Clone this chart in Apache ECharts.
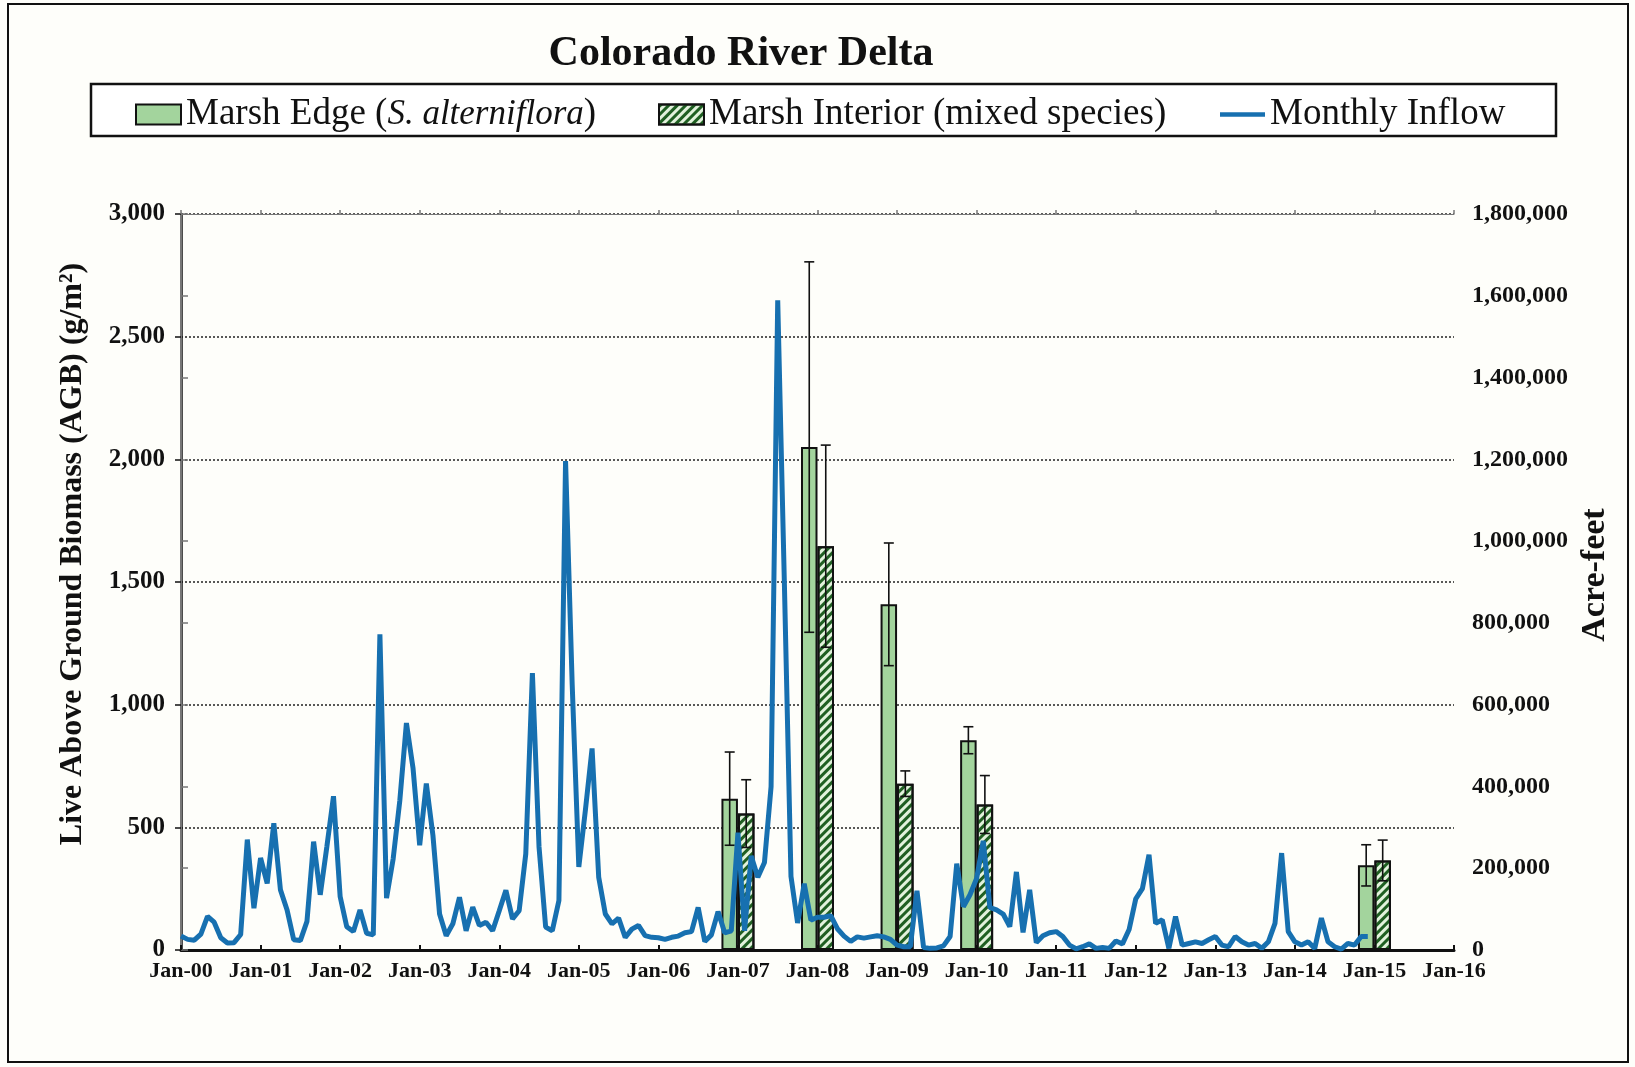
<!DOCTYPE html>
<html lang="en">
<head>
<meta charset="UTF-8">
<title>Colorado River Delta</title>
<script src="https://cdn.jsdelivr.net/npm/echarts@6/dist/echarts.min.js"></script>
<style>
  html, body { margin: 0; padding: 0; background: #fefefa; }
  #chart { width: 1635px; height: 1067px; }
</style>
</head>
<body>
<div id="chart"></div>
<script>
// monthly inflow to the delta, acre-feet, Jan..Dec of each year
const inflow2000 = [34000, 26000, 24000, 39000, 82000, 68000, 30000, 17000, 18000, 38000, 270000, 102000];
const inflow2001 = [225000, 163000, 310000, 147000, 98000, 25000, 23000, 70000, 265000, 135000, 253000, 376000];
const inflow2002 = [131000, 57000, 45000, 98000, 41000, 37000, 772000, 127000, 223000, 365000, 555000, 444000];
const inflow2003 = [256000, 407000, 280000, 88000, 35000, 64000, 129000, 47000, 105000, 60000, 68000, 47000];
const inflow2004 = [96000, 146000, 76000, 96000, 235000, 677000, 252000, 56000, 47000, 121000, 1196000, 650000];
const inflow2005 = [203000, 343000, 493000, 178000, 88000, 64000, 78000, 31000, 51000, 60000, 35000, 31000];
const inflow2006 = [30000, 26000, 31000, 34000, 42000, 45000, 104000, 21000, 37000, 94000, 42000, 47000];
const inflow2007 = [287000, 47000, 230000, 178000, 214000, 400000, 1589000, 900000, 180000, 66000, 162000, 73000];
const inflow2008 = [80000, 80000, 84000, 52000, 34000, 21000, 32000, 29000, 32000, 35000, 32000, 26000];
const inflow2009 = [12000, 8000, 8000, 145000, 6000, 4000, 5000, 10000, 33000, 211000, 106000, 135000];
const inflow2010 = [175000, 267000, 104000, 98000, 88000, 57000, 191000, 43000, 147000, 18000, 35000, 42000];
const inflow2011 = [45000, 33000, 12000, 3000, 8000, 15000, 4000, 6000, 4000, 22000, 15000, 50000];
const inflow2012 = [125000, 150000, 233000, 65000, 74000, 4000, 82000, 12000, 16000, 20000, 16000, 25000];
const inflow2013 = [33000, 12000, 8000, 33000, 20000, 12000, 16000, 4000, 20000, 65000, 237000, 45000];
const inflow2014 = [20000, 12000, 20000, 4000, 78000, 20000, 8000, 2000, 16000, 12000, 33000, 33000];

// biomass sampling dates, as months since Jan-00 (Jan-07, Jan-08, Jan-09, Jan-10, Jan-15)
const sampleMonths = [84, 96, 108, 120, 180];
const edgeMean = [617, 2050, 1409, 855, 345];
const edgeErr = [190, 755, 250, 55, 84];
const interiorMean = [556, 1646, 678, 593, 365];
const interiorErr = [138, 412, 52, 118, 83];

const yearLabels = ['Jan-00', 'Jan-01', 'Jan-02', 'Jan-03', 'Jan-04', 'Jan-05', 'Jan-06', 'Jan-07', 'Jan-08',
  'Jan-09', 'Jan-10', 'Jan-11', 'Jan-12', 'Jan-13', 'Jan-14', 'Jan-15', 'Jan-16'];

const EDGE = 'Marsh Edge (S. alterniflora)';
const INTERIOR = 'Marsh Interior (mixed species)';
const INFLOW = 'Monthly Inflow';

const SERIF = "'Liberation Serif', 'Times New Roman', serif";
const BAR_W = 16.5;
const LINE_BLUE = '#1770b0';

const monthlyInflow = [].concat(inflow2000, inflow2001, inflow2002, inflow2003, inflow2004, inflow2005,
  inflow2006, inflow2007, inflow2008, inflow2009, inflow2010, inflow2011, inflow2012, inflow2013, inflow2014);

function thousands(v) {
  return Number(v).toLocaleString('en-US');
}

function errorBars(means, errs, side) {
  return {
    type: 'custom',
    name: side < 0 ? 'edge error' : 'interior error',
    xAxisIndex: 0,
    yAxisIndex: 0,
    z: 4,
    silent: true,
    data: sampleMonths.map((m, i) => [m, means[i] - errs[i], means[i] + errs[i]]),
    renderItem: function (params, api) {
      const lo = api.coord([api.value(0), api.value(1)]);
      const hi = api.coord([api.value(0), api.value(2)]);
      const x = lo[0] + side * BAR_W / 2;
      const cap = 5;
      const st = { stroke: '#111', lineWidth: 1.6 };
      return {
        type: 'group',
        children: [
          { type: 'line', shape: { x1: x, y1: lo[1], x2: x, y2: hi[1] }, style: st },
          { type: 'line', shape: { x1: x - cap, y1: hi[1], x2: x + cap, y2: hi[1] }, style: st },
          { type: 'line', shape: { x1: x - cap, y1: lo[1], x2: x + cap, y2: lo[1] }, style: st }
        ]
      };
    }
  };
}

// one legend block per entry so each sits where it does in the figure
function legendAt(left, item) {
  return {
    left: left,
    top: 91,
    itemWidth: 45,
    itemHeight: 20,
    data: [item],
    formatter: function (name) {
      if (name === EDGE) return '{n|Marsh Edge (}{i|S. alterniflora}{n|)}';
      return '{n|' + name + '}';
    },
    textStyle: {
      color: '#111',
      fontFamily: SERIF,
      fontSize: 37,
      rich: {
        n: { fontFamily: SERIF, fontSize: 37, color: '#111' },
        i: { fontFamily: SERIF, fontSize: 35, fontStyle: 'italic', color: '#111' }
      }
    }
  };
}

const chart = echarts.init(document.getElementById('chart'));

const option = {
  backgroundColor: '#fefefa',
  animation: false,
  graphic: [
    { type: 'rect', shape: { x: 8, y: 4, width: 1620, height: 1058 }, style: { fill: 'none', stroke: '#111', lineWidth: 2 } },
    { type: 'rect', shape: { x: 91, y: 84, width: 1465, height: 52 }, style: { fill: '#ffffff', stroke: '#111', lineWidth: 2.5 }, z: -1 },
    { type: 'text', x: 741, y: 54, style: { text: 'Colorado River Delta', font: 'bold 42px ' + SERIF, fill: '#111', align: 'center', verticalAlign: 'middle' } },
    { type: 'text', x: 73, y: 554, rotation: Math.PI / 2, style: { text: 'Live Above Ground Biomass (AGB) (g/m²)', font: 'bold 32px ' + SERIF, fill: '#111', align: 'center', verticalAlign: 'middle' } },
    { type: 'text', x: 1595, y: 575, rotation: Math.PI / 2, style: { text: 'Acre-feet', font: 'bold 34px ' + SERIF, fill: '#111', align: 'center', verticalAlign: 'middle' } }
  ],
  legend: [
    legendAt(130, { name: EDGE, icon: 'rect' }),
    legendAt(653, { name: INTERIOR, icon: 'rect' }),
    legendAt(1215, { name: INFLOW, icon: 'path://M0,0 L45,0 L45,4.5 L0,4.5 Z' })
  ],
  grid: { left: 181, right: 181, top: 214, bottom: 117, containLabel: false },
  xAxis: [
    {
      type: 'value', position: 'bottom', min: 0, max: 192, interval: 12,
      axisLine: { show: true, onZero: false, lineStyle: { color: '#111', width: 3 } },
      axisTick: { show: true, inside: true, length: 5, lineStyle: { color: '#111', width: 2 } },
      axisLabel: {
        margin: 10, color: '#111', fontFamily: SERIF, fontWeight: 'bold', fontSize: 22,
        showMinLabel: true, showMaxLabel: true,
        formatter: v => yearLabels[Math.round(v / 12)]
      },
      splitLine: { show: false }
    },
    {
      type: 'value', position: 'top', min: 0, max: 192, interval: 12,
      axisLine: { show: true, onZero: false, lineStyle: { color: '#777', width: 1 } },
      axisTick: { show: true, inside: false, length: 4, lineStyle: { color: '#777', width: 1.5 } },
      axisLabel: { show: false },
      splitLine: { show: false }
    }
  ],
  yAxis: [
    {
      type: 'value', position: 'left', min: 0, max: 3000, interval: 500,
      axisLine: { show: true, lineStyle: { color: '#111', width: 2.5 } },
      axisTick: { show: true, inside: false, length: 6, lineStyle: { color: '#111', width: 1.5 } },
      axisLabel: { margin: 16, color: '#111', fontFamily: SERIF, fontWeight: 'bold', fontSize: 25, formatter: thousands },
      splitLine: { show: true, lineStyle: { color: '#222', width: 1.5, type: [2, 2] } }
    },
    {
      type: 'value', position: 'right', min: 0, max: 1800000, interval: 200000,
      axisLine: { show: true, lineStyle: { color: '#777', width: 2 } },
      axisTick: { show: true, inside: false, length: 7, lineStyle: { color: '#777', width: 1.5 } },
      axisLabel: { margin: 18, color: '#111', fontFamily: SERIF, fontWeight: 'bold', fontSize: 24, formatter: thousands },
      splitLine: { show: false }
    }
  ],
  series: [
    {
      name: EDGE, type: 'bar', xAxisIndex: 0, yAxisIndex: 0, barWidth: BAR_W, barGap: '0%', z: 2,
      itemStyle: { color: '#a3d49d', borderColor: '#111', borderWidth: 2 },
      data: sampleMonths.map((m, i) => [m, edgeMean[i]])
    },
    {
      name: INTERIOR, type: 'bar', xAxisIndex: 0, yAxisIndex: 0, barWidth: BAR_W, barGap: '0%', z: 2,
      itemStyle: {
        color: '#e2f2dc', borderColor: '#111', borderWidth: 2,
        decal: { symbol: 'rect', symbolSize: 1, dashArrayX: [1, 0], dashArrayY: [2.5, 2.5], rotation: -Math.PI / 4, color: '#1f5f22' }
      },
      data: sampleMonths.map((m, i) => [m, interiorMean[i]])
    },
    errorBars(edgeMean, edgeErr, -1),
    errorBars(interiorMean, interiorErr, 1),
    {
      name: INFLOW, type: 'line', xAxisIndex: 0, yAxisIndex: 1, z: 5,
      symbol: 'none', showSymbol: false,
      lineStyle: { color: LINE_BLUE, width: 5 },
      itemStyle: { color: LINE_BLUE },
      data: monthlyInflow.map((v, i) => [i, v])
    }
  ]
};

chart.setOption(option);
</script>
</body>
</html>
